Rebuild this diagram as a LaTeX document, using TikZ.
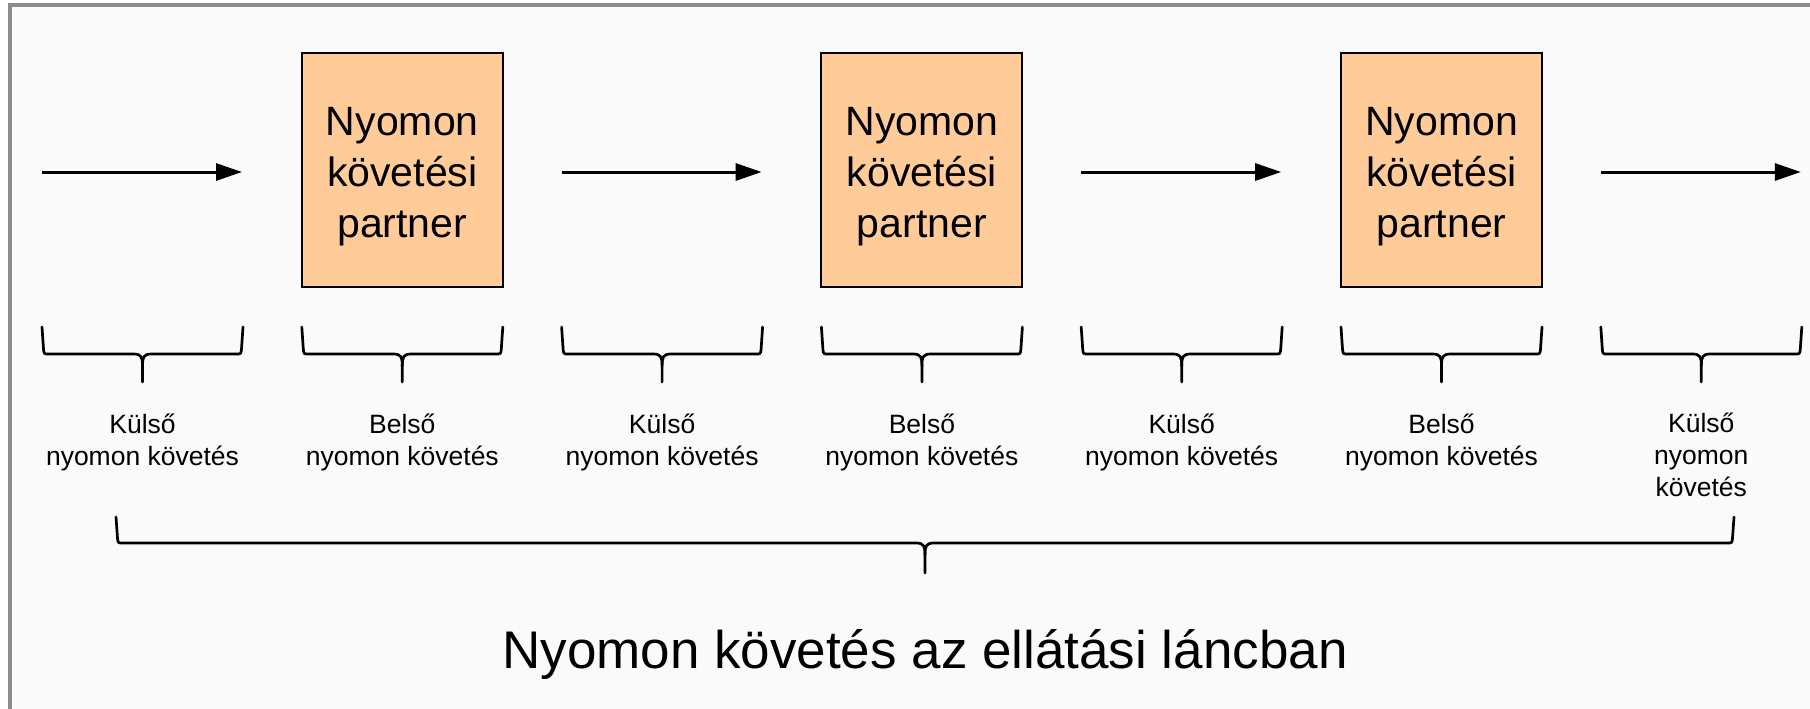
\documentclass[tikz,border=0pt]{standalone}
\usepackage{fontspec}
\setmainfont{Liberation Sans}
\usetikzlibrary{arrows.meta}
\definecolor{boxfill}{HTML}{FFCC99}
\definecolor{bgfill}{HTML}{FAFAFA}
\definecolor{framegray}{HTML}{8C8C8C}
\newcommand\mybrace[5]{%
  \pgfmathsetmacro\xc{(#1+#2)/2}%
  \draw[bracestyle] (#1,#3) -- ({#1+1.5},{#4-5}) .. controls ({#1+2},#4) .. ({#1+7},#4) -- ({\xc-9},#4) .. controls ({\xc-1},#4) and (\xc,{#4+3}) .. (\xc,{#4+12}) -- (\xc,#5);
  \draw[bracestyle] (#2,#3) -- ({#2-1.5},{#4-5}) .. controls ({#2-2},#4) .. ({#2-7},#4) -- ({\xc+9},#4) .. controls ({\xc+1},#4) and (\xc,{#4+3}) .. (\xc,{#4+12});
}
\begin{document}
\begin{tikzpicture}[x=0.5pt,y=-0.5pt,
  arr/.style={line width=1.5pt,-{Triangle[length=13pt,width=8.5pt]}},
  partner/.style={draw=black,line width=1pt,fill=boxfill,minimum width=100.5pt,minimum height=117pt,inner sep=0pt,align=center,font=\fontsize{20.5pt}{25.5pt}\selectfont},
  lab/.style={align=center,anchor=base,inner sep=0pt,font=\fontsize{13.25pt}{16pt}\selectfont},
  bracestyle/.style={line width=1.35pt,line join=round,line cap=round},
  ttl/.style={anchor=base,inner sep=0pt,font=\fontsize{26.5pt}{32pt}\selectfont}]
\useasboundingbox (0,0) rectangle (1810,708);
\clip (0,0) rectangle (1810,708);
\draw[framegray,line width=1.75pt,fill=bgfill] (10,5) rectangle (1850,750);
% arrows
\foreach \i/\x in {1/42,2/561.6,3/1081.2,4/1600.8}{
  \coordinate (as\i) at (\x,172);
  \coordinate (ae\i) at (\x+200,172);
  \draw[arr] (as\i) -- (ae\i);
}
% partner boxes
\foreach \i/\x in {1/402.3,2/921.9,3/1441.5}{
  \node[partner] (p\i) at (\x,170) {\rule{0pt}{20.3pt}Nyomon\\követési\\partner};
}
% small braces
\foreach \x in {42,301.8,561.6,821.4,1081.2,1341,1600.8}{
  \mybrace{\x}{\x+201}{327}{354}{382}
}
% labels (base anchor = baseline of last line)
\node[lab] (l1) at (142.5,465) {Külső\\nyomon követés};
\node[lab] (l2) at (402.3,465) {Belső\\nyomon követés};
\node[lab] (l3) at (662.1,465) {Külső\\nyomon követés};
\node[lab] (l4) at (921.9,465) {Belső\\nyomon követés};
\node[lab] (l5) at (1181.7,465) {Külső\\nyomon követés};
\node[lab] (l6) at (1441.5,465) {Belső\\nyomon követés};
\node[lab] (l7) at (1701.3,496) {Külső\\nyomon\\követés};
% big brace
\mybrace{116}{1734}{517}{543}{573}
\node[ttl] (title) at (925,668) {Nyomon követés az ellátási láncban};
\end{tikzpicture}
\end{document}
